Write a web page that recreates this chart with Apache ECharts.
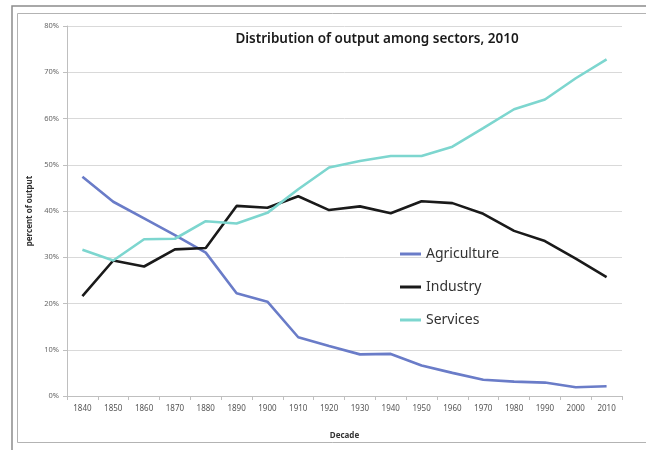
<!DOCTYPE html>
<html>
<head>
<meta charset="utf-8">
<script src="https://cdn.jsdelivr.net/npm/echarts@6/dist/echarts.min.js"></script>
<style>
html,body{margin:0;padding:0;background:#fff;}
#chart{width:646px;height:450px;}
</style>
</head>
<body>
<div id="chart"></div>
<script>
const decades = ['1840','1850','1860','1870','1880','1890','1900','1910','1920','1930','1940','1950','1960','1970','1980','1990','2000','2010'];
const agriculture = [47.4, 42.0, 38.4, 34.8, 31.0, 22.2, 20.4, 12.7, 10.8, 9.0, 9.1, 6.6, 5.0, 3.5, 3.1, 2.9, 1.9, 2.1];
const industry = [21.6, 29.3, 28.0, 31.7, 32.0, 41.1, 40.7, 43.2, 40.2, 41.0, 39.5, 42.1, 41.7, 39.4, 35.7, 33.5, 29.7, 25.7];
const services = [31.6, 29.3, 33.9, 34.0, 37.8, 37.3, 39.6, 44.7, 49.4, 50.8, 51.9, 51.9, 53.9, 57.9, 62.0, 64.1, 68.7, 72.8];
const yTicks = [0, 10, 20, 30, 40, 50, 60, 70, 80];

const chart = echarts.init(document.getElementById('chart'), null, {renderer: 'canvas'});
const lineStyle = (c) => ({color: c, width: 2.6});
chart.setOption({
  animation: false,
  backgroundColor: '#fff',
  title: {
    text: 'Distribution of output among sectors, 2010',
    left: 372, top: 27, textAlign: 'center',
    textStyle: {fontFamily: 'Noto Sans', fontSize: 13.5, fontWeight: 600, color: '#1a1a1a'}
  },
  graphic: [
    {type: 'rect', shape: {x: 12, y: 6, width: 700, height: 500}, style: {fill: 'none', stroke: '#8c8c8c', lineWidth: 1.5}, silent: true},
    {type: 'rect', shape: {x: 17.5, y: 13.5, width: 700, height: 429}, style: {fill: 'none', stroke: '#b3b3b3', lineWidth: 1}, silent: true}
  ],
  legend: {
    orient: 'vertical', left: 395, top: 242, itemGap: 19,
    itemWidth: 21, itemHeight: 3,
    icon: 'rect',
    textStyle: {fontFamily: 'Noto Sans', fontSize: 14, color: '#333'},
    data: ['Agriculture', 'Industry', 'Services']
  },
  grid: {left: 67, right: 24, top: 26, bottom: 54},
  xAxis: {
    type: 'category', data: decades, boundaryGap: true,
    name: 'Decade', nameLocation: 'middle', nameGap: 36,
    nameTextStyle: {fontFamily: 'Noto Sans', fontSize: 8, fontWeight: 'bold', color: '#333'},
    axisLine: {lineStyle: {color: '#bfbfbf', width: 1}},
    axisTick: {show: true, length: 4, lineStyle: {color: '#bfbfbf'}},
    axisLabel: {fontFamily: 'Noto Sans', fontSize: 8, color: '#555', margin: 9}
  },
  yAxis: {
    type: 'value', min: 0, max: 80, interval: 10,
    name: 'percent of output', nameLocation: 'middle', nameGap: 30, nameRotate: 90,
    nameTextStyle: {fontFamily: 'Noto Sans', fontSize: 8, fontWeight: 'bold', color: '#333'},
    axisLine: {show: true, lineStyle: {color: '#bfbfbf'}},
    axisTick: {show: true, length: 4, lineStyle: {color: '#bfbfbf'}},
    splitLine: {lineStyle: {color: '#d9d9d9', width: 1}},
    axisLabel: {fontFamily: 'Noto Sans', fontSize: 7.5, color: '#666', margin: 8,
      formatter: (v) => yTicks.includes(v) ? v + '%' : ''}
  },
  series: [
    {name: 'Agriculture', type: 'line', data: agriculture, symbol: 'none', lineStyle: lineStyle('#6a7cc8'), itemStyle: {color: '#6a7cc8'}},
    {name: 'Industry', type: 'line', data: industry, symbol: 'none', lineStyle: lineStyle('#1a1a1a'), itemStyle: {color: '#1a1a1a'}},
    {name: 'Services', type: 'line', data: services, symbol: 'none', lineStyle: lineStyle('#7dd6cf'), itemStyle: {color: '#7dd6cf'}}
  ]
});
</script>
</body>
</html>
